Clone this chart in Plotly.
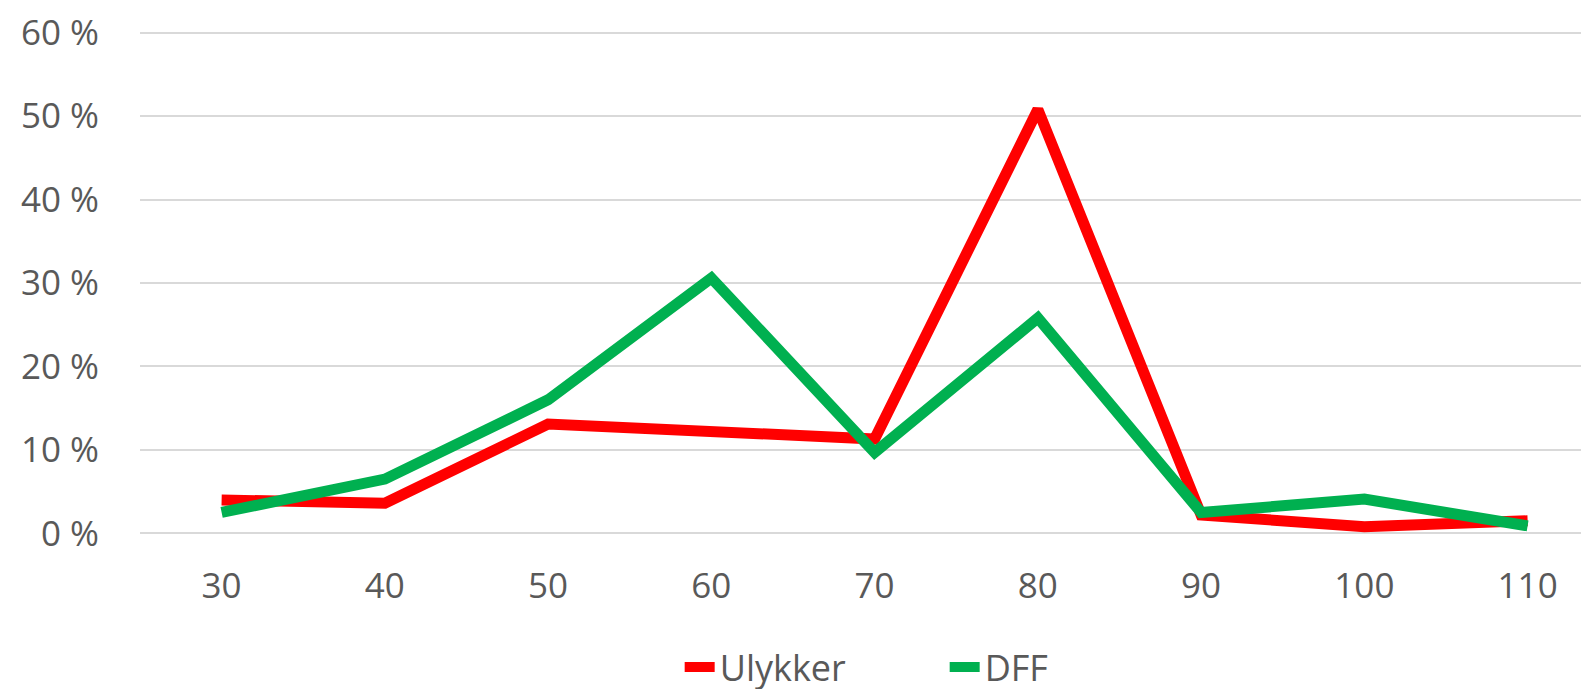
import plotly.graph_objects as go

categories = ["30", "40", "50", "60", "70", "80", "90", "100", "110"]
ulykker = [4.0, 3.6, 13.1, 12.1, 11.3, 50.8, 2.2, 0.8, 1.5]
dff = [2.5, 6.5, 16.0, 30.6, 9.7, 25.8, 2.5, 4.1, 0.9]
y_ticks = [0, 10, 20, 30, 40, 50, 60]
y_tick_labels = ["0 %", "10 %", "20 %", "30 %", "40 %", "50 %", "60 %"]

fig = go.Figure()
fig.add_trace(go.Scatter(x=categories, y=ulykker, mode="lines", name="Ulykker",
                         line=dict(color="#FF0000", width=11)))
fig.add_trace(go.Scatter(x=categories, y=dff, mode="lines", name="DFF",
                         line=dict(color="#00B050", width=11)))

font_family = "Open Sans, Noto Sans, sans-serif"
fig.update_layout(
    width=1589, height=689,
    margin=dict(l=132, r=0, t=23, b=162, autoexpand=False),
    paper_bgcolor="white", plot_bgcolor="white",
    font=dict(family=font_family, size=35, color="#595959"),
    showlegend=True,
    legend=dict(orientation="h", x=0.3704, xanchor="left", y=-0.262, yanchor="middle",
                font=dict(size=36, color="#595959"), tracegroupgap=0,
                entrywidth=220, entrywidthmode="pixels"),
    xaxis=dict(type="category", range=[-0.5, 8.425], showgrid=False, zeroline=False,
               showline=False, ticks="outside", ticklen=20, tickcolor="rgba(0,0,0,0)",
               automargin=False, tickfont=dict(size=35, color="#595959")),
    yaxis=dict(range=[-0.2, 60.2], tickvals=y_ticks, ticktext=y_tick_labels, showgrid=True,
               gridcolor="#D9D9D9", gridwidth=2, zeroline=False, showline=False,
               ticks="outside", ticklen=33, tickcolor="rgba(0,0,0,0)",
               ticklabeloverflow="allow",
               automargin=False, tickfont=dict(size=35, color="#595959")),
)
fig.write_html("out.html")
